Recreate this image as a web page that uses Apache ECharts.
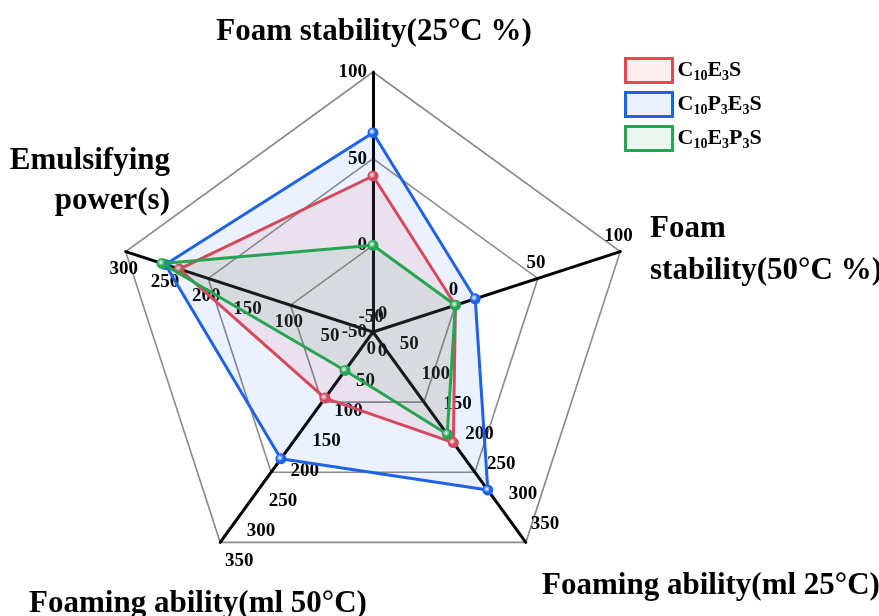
<!DOCTYPE html>
<html>
<head>
<meta charset="utf-8">
<script src="https://cdn.jsdelivr.net/npm/echarts@6/dist/echarts.min.js"></script>
<style>
  html, body { margin: 0; padding: 0; background: #ffffff; }
  #chart { width: 879px; height: 616px; }
</style>
</head>
<body>
<div id="chart"></div>
<script>
// Indicators, listed counter-clockwise starting from the top axis
const axisNames = [
  'Foam stability(25°C %)',
  'Emulsifying\npower(s)',
  'Foaming ability(ml 50°C)',
  'Foaming ability(ml 25°C)',
  'Foam\nstability(50°C %)'
];
const axisMin = [-50, 0, 0, 0, -50];
const axisMax = [100, 300, 350, 350, 100];
// number of labelled steps on each axis (every 50 units)
const axisSteps = [3, 6, 7, 7, 3];

// Series
const seriesNames = ['C10E3S', 'C10P3E3S', 'C10E3P3S'];
const seriesLabels = [
  '{n|C}{s|10}{n|E}{s|3}{n|S}',
  '{n|C}{s|10}{n|P}{s|3}{n|E}{s|3}{n|S}',
  '{n|C}{s|10}{n|E}{s|3}{n|P}{s|3}{n|S}'
];
const c10e3s   = [40, 235, 110, 184, 0];
const c10p3e3s = [65, 252, 211, 263, 12];
const c10e3p3s = [0, 256, 64, 170, 0];
const seriesValues = [c10e3s, c10p3e3s, c10e3p3s];
const seriesColors = ['#e8474f', '#1e63e6', '#26a552'];
const seriesFills = ['rgba(232,71,79,0.09)', 'rgba(30,99,230,0.09)', 'rgba(38,165,82,0.09)'];

const serif = '"Liberation Serif", "Times New Roman", serif';
const CENTER = [373, 332];
const RADIUS = 260;

// Where each axis puts its tick labels relative to the tick
const labelPlacement = [
  {},                                                          // top: left of the axis
  { align: 'center', verticalAlign: 'top', padding: [2, 0, 0, 0] },     // upper left: below
  { align: 'left', verticalAlign: 'top', padding: [6, 0, 0, 0] },       // lower left: below right
  { align: 'left', verticalAlign: 'bottom', padding: [0, 0, 5, 0] },    // lower right: above right
  { align: 'center', verticalAlign: 'bottom', padding: [0, 0, 0, 0] }   // right: above
];

// One radar draws the rings and the axes (3 rings);
// further transparent radars only carry the tick labels of axes with other step counts.
function makeRadar(splitNumber, labelled, drawGrid) {
  return {
    center: CENTER,
    radius: RADIUS,
    startAngle: 90,
    shape: 'polygon',
    splitNumber: splitNumber,
    axisName: { show: false },
    axisLine: { show: drawGrid, lineStyle: { color: '#000000', width: 3 } },
    axisTick: { show: false },
    splitLine: { show: drawGrid, lineStyle: { color: '#8a8a8a', width: 1.6 } },
    splitArea: { show: false },
    axisLabel: { show: false },
    indicator: axisNames.map((name, i) => ({
      name: name,
      min: axisMin[i],
      max: axisMax[i],
      axisLabel: Object.assign({
        show: labelled.indexOf(i) >= 0,
        color: '#000000',
        fontFamily: serif,
        fontWeight: 'bold',
        fontSize: 19,
        margin: 6
      }, labelPlacement[i])
    }))
  };
}

const radars = [
  makeRadar(axisSteps[0], [0, 4], true),
  makeRadar(axisSteps[1], [1], false),
  makeRadar(axisSteps[2], [2, 3], false)
];

function sphere(color) {
  return {
    type: 'radial', x: 0.4, y: 0.4, r: 0.7,
    colorStops: [
      { offset: 0, color: '#ffffff' },
      { offset: 0.45, color: color },
      { offset: 1, color: color }
    ]
  };
}

const series = seriesNames.map((name, k) => ({
  type: 'radar',
  name: name,
  radarIndex: 0,
  symbol: 'circle',
  symbolSize: 11,
  z: 5 + k,
  lineStyle: { color: seriesColors[k], width: 3 },
  itemStyle: { color: sphere(seriesColors[k]) },
  areaStyle: { color: seriesFills[k], opacity: 1 },
  data: [{ name: name, value: seriesValues[k] }]
}));

const nameFont = 'bold 31px ' + serif;

const option = {
  backgroundColor: '#ffffff',
  animation: false,
  radar: radars,
  legend: {
    orient: 'vertical',
    left: 619,
    top: 52,
    padding: 5,
    itemWidth: 47,
    itemHeight: 24,
    itemGap: 7,
    icon: 'rect',
    data: seriesNames.map((name, k) => ({
      name: name,
      icon: 'rect',
      itemStyle: { color: seriesFills[k], borderColor: seriesColors[k], borderWidth: 3 }
    })),
    formatter: name => seriesLabels[seriesNames.indexOf(name)],
    textStyle: {
      color: '#000000',
      rich: {
        n: { fontFamily: serif, fontWeight: 'bold', fontSize: 22, color: '#000000' },
        s: { fontFamily: serif, fontWeight: 'bold', fontSize: 14, color: '#000000', padding: [11, 0, 0, 0] }
      }
    }
  },
  graphic: [
    { type: 'text', x: 374, y: 32, style: { text: axisNames[0], font: nameFont, fill: '#000', align: 'center', verticalAlign: 'middle' } },
    { type: 'text', x: 170, y: 181, style: { text: axisNames[1], font: nameFont, lineHeight: 40, fill: '#000', align: 'right', verticalAlign: 'middle' } },
    { type: 'text', x: 198, y: 604, style: { text: axisNames[2], font: nameFont, fill: '#000', align: 'center', verticalAlign: 'middle' } },
    { type: 'text', x: 711, y: 586, style: { text: axisNames[3], font: nameFont, fill: '#000', align: 'center', verticalAlign: 'middle' } },
    { type: 'text', x: 650, y: 250, style: { text: axisNames[4], font: nameFont, lineHeight: 42, fill: '#000', align: 'left', verticalAlign: 'middle' } }
  ],
  series: series
};

const chart = echarts.init(document.getElementById('chart'), null, { renderer: 'canvas' });
chart.setOption(option);
</script>
</body>
</html>
